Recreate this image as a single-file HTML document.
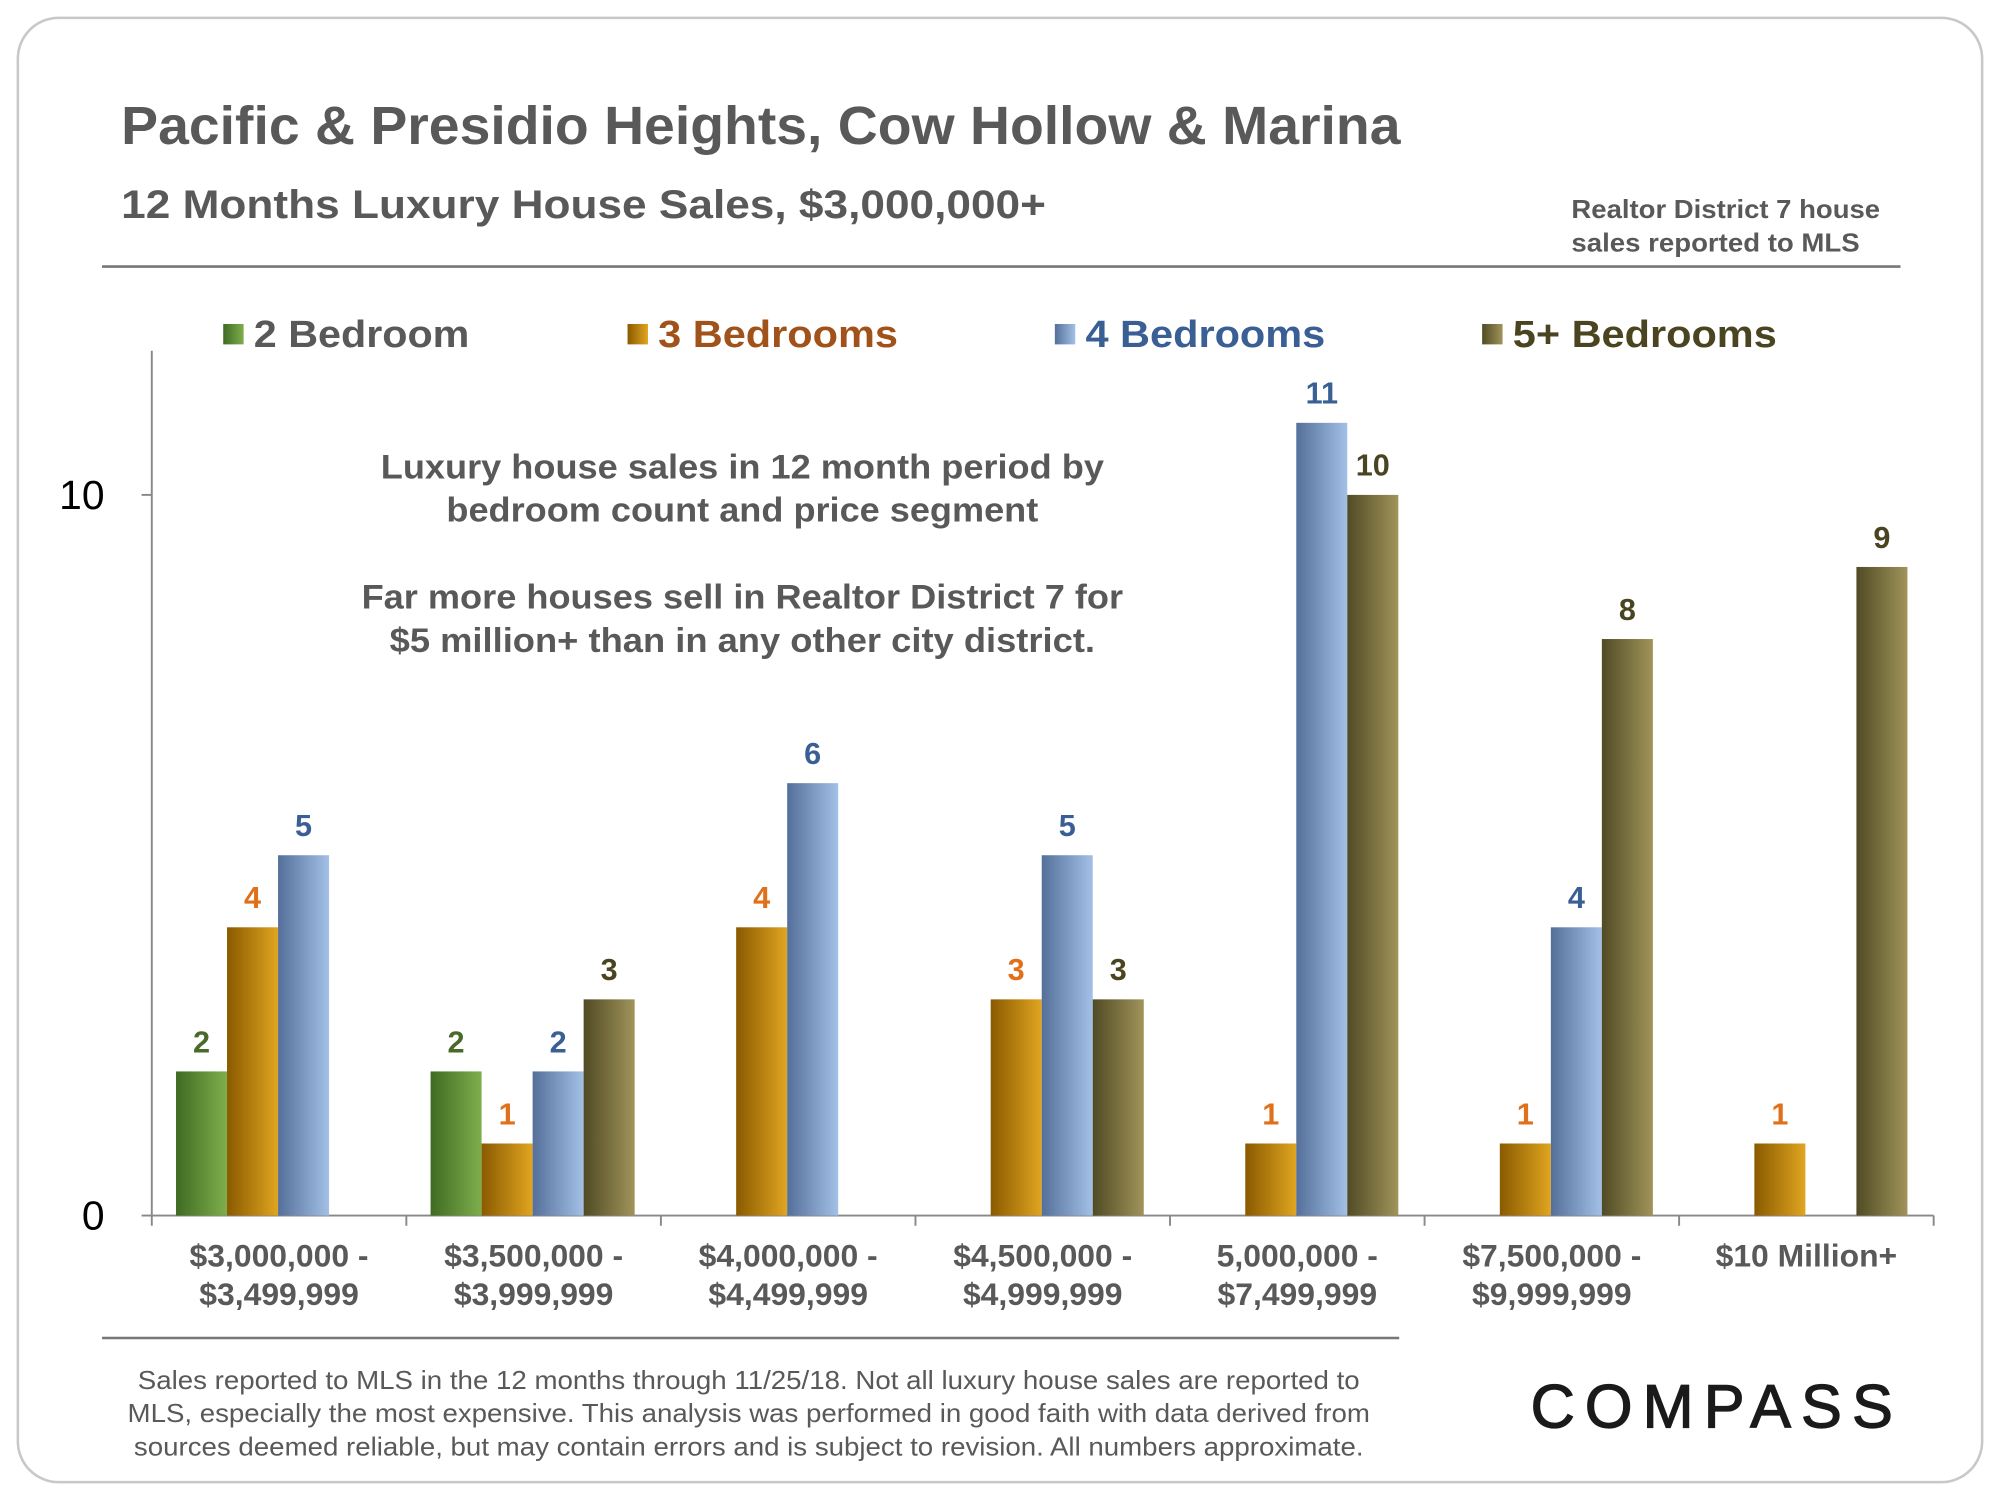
<!DOCTYPE html>
<html><head><meta charset="utf-8">
<style>
html,body{margin:0;padding:0;background:#fff;}
svg{display:block;font-family:"Liberation Sans",Arial,sans-serif;}
</style></head>
<body>
<svg id="chart" width="2000" height="1500" viewBox="0 0 1568 1176" xmlns="http://www.w3.org/2000/svg">
<defs>
<linearGradient id="g2" x1="0" x2="1" y1="0" y2="0"><stop offset="0" stop-color="#3f6b22"/><stop offset="1" stop-color="#7fae4c"/></linearGradient>
<linearGradient id="g3" x1="0" x2="1" y1="0" y2="0"><stop offset="0" stop-color="#8a5a00"/><stop offset="1" stop-color="#e0a520"/></linearGradient>
<linearGradient id="g4" x1="0" x2="1" y1="0" y2="0"><stop offset="0" stop-color="#54709a"/><stop offset="1" stop-color="#a3c0e6"/></linearGradient>
<linearGradient id="g5" x1="0" x2="1" y1="0" y2="0"><stop offset="0" stop-color="#514b25"/><stop offset="1" stop-color="#a0945a"/></linearGradient>
</defs>
<rect x="14" y="14" width="1540" height="1148" rx="32" fill="#fff" stroke="#c8c8c8" stroke-width="2"/>
<text x="95" y="113" font-size="42" font-weight="bold" fill="#595959" textLength="1003" lengthAdjust="spacingAndGlyphs">Pacific &amp; Presidio Heights, Cow Hollow &amp; Marina</text>
<text x="95" y="171" font-size="31" font-weight="bold" fill="#595959" textLength="725" lengthAdjust="spacingAndGlyphs">12 Months Luxury House Sales, $3,000,000+</text>
<text x="1232" y="171" font-size="20" font-weight="bold" fill="#595959" textLength="242" lengthAdjust="spacingAndGlyphs">Realtor District 7 house</text>
<text x="1232" y="197" font-size="20" font-weight="bold" fill="#595959" textLength="226" lengthAdjust="spacingAndGlyphs">sales reported to MLS</text>
<line x1="80" y1="209" x2="1490" y2="209" stroke="#777" stroke-width="2"/>

<g>
<g><rect x="175" y="254" width="16" height="16" fill="url(#g2)"/><text x="199" y="272" font-size="30" font-weight="bold" fill="#595959" textLength="169" lengthAdjust="spacingAndGlyphs">2 Bedroom</text></g>
<g><rect x="492" y="254" width="16" height="16" fill="url(#g3)"/><text x="516" y="272" font-size="30" font-weight="bold" fill="#a0521a" textLength="188" lengthAdjust="spacingAndGlyphs">3 Bedrooms</text></g>
<g><rect x="827" y="254" width="16" height="16" fill="url(#g4)"/><text x="851" y="272" font-size="30" font-weight="bold" fill="#3a5f94" textLength="188" lengthAdjust="spacingAndGlyphs">4 Bedrooms</text></g>
<g><rect x="1162" y="254" width="16" height="16" fill="url(#g5)"/><text x="1186" y="272" font-size="30" font-weight="bold" fill="#4a4520" textLength="207" lengthAdjust="spacingAndGlyphs">5+ Bedrooms</text></g>
</g>

<g font-size="27" font-weight="bold" fill="#595959" text-anchor="middle">
<text x="582" y="375" textLength="567" lengthAdjust="spacingAndGlyphs">Luxury house sales in 12 month period by</text>
<text x="582" y="409" textLength="464" lengthAdjust="spacingAndGlyphs">bedroom count and price segment</text>
<text x="582" y="477" textLength="597" lengthAdjust="spacingAndGlyphs">Far more houses sell in Realtor District 7 for</text>
<text x="582" y="511" textLength="553" lengthAdjust="spacingAndGlyphs">$5 million+ than in any other city district.</text>
</g>

<g id="axes"></g>
<g id="bars"></g>

<line x1="80" y1="1049" x2="1097" y2="1049" stroke="#777" stroke-width="2"/>
<g font-size="20" fill="#595959" text-anchor="middle">
<text x="587" y="1089" textLength="958" lengthAdjust="spacingAndGlyphs">Sales reported to MLS in the 12 months through 11/25/18. Not all luxury house sales are reported to</text>
<text x="587" y="1115" textLength="974" lengthAdjust="spacingAndGlyphs">MLS, especially the most expensive. This analysis was performed in good faith with data derived from</text>
<text x="587" y="1141" textLength="964" lengthAdjust="spacingAndGlyphs">sources deemed reliable, but may contain errors and is subject to revision. All numbers approximate.</text>
</g>
<text x="1200" y="1119" font-size="48" fill="#1a1a1a" stroke="#1a1a1a" stroke-width="1" textLength="284" lengthAdjust="spacing">COMPASS</text>
</svg>
<script>
const categories = [["$3,000,000 -","$3,499,999"],["$3,500,000 -","$3,999,999"],["$4,000,000 -","$4,499,999"],["$4,500,000 -","$4,999,999"],["5,000,000 -","$7,499,999"],["$7,500,000 -","$9,999,999"],["$10 Million+",""]];
const br2 = [2,2,0,0,0,0,0];
const br3 = [4,1,4,3,1,1,1];
const br4 = [5,2,6,5,11,4,0];
const br5 = [0,3,0,3,10,8,9];
const yTicks = [0,10];

const NS="http://www.w3.org/2000/svg";
const x0=119, x1=1516, y0=953, unit=56.5;
const gw=(x1-x0)/categories.length;
function yScale(v){return y0-v*unit;}
function xBand(i,s){return x0+i*gw+19+s*40;}
function mk(tag,attrs,parent){const e=document.createElementNS(NS,tag);for(const k in attrs)e.setAttribute(k,attrs[k]);parent.appendChild(e);return e;}
const axes=document.getElementById('axes'), bars=document.getElementById('bars');
let l=mk('line',{x1:x0,y1:275,x2:x0,y2:y0,stroke:'#888','stroke-width':1.5},axes);


l=mk('line',{x1:x0,y1:y0,x2:x1,y2:y0,stroke:'#888','stroke-width':1.5},axes);


yTicks.forEach(v=>{
  const t=mk('line',{x1:x0-8,y1:yScale(v),x2:x0,y2:yScale(v),stroke:'#888','stroke-width':1.5},axes);
  
  
  const tx=mk('text',{x:82,y:yScale(v)+11,'font-size':32,fill:'#000','text-anchor':'end'},axes);
  tx.textContent=v;
  
  
});
for(let i=0;i<=categories.length;i++){
  const t=mk('line',{x1:x0+i*gw,y1:y0,x2:x0+i*gw,y2:y0+8,stroke:'#888','stroke-width':1.5},axes);
  
  
}
categories.forEach((c,i)=>{
  c.forEach((line,j)=>{
    if(!line)return;
    const tx=mk('text',{x:x0+i*gw+gw/2,y:993+j*30,'font-size':25,'font-weight':'bold',fill:'#595959','text-anchor':'middle'},axes);
    tx.textContent=line;
    
    
  });
});
const series=[[br2,'url(#g2)','#4a6a2a','2br'],[br3,'url(#g3)','#e0701a','3br'],[br4,'url(#g4)','#3a5f94','4br'],[br5,'url(#g5)','#4a4520','5br']];
series.forEach((s,si)=>{
  s[0].forEach((v,i)=>{
    if(!v)return;
    const x=xBand(i,si);
    const r=mk('rect',{x:x,y:yScale(v),width:40,height:v*unit,fill:s[1]},bars);
    
    
    const t=mk('text',{x:x+20,y:yScale(v)-15,'font-size':24,'font-weight':'bold',fill:s[2],'text-anchor':'middle'},bars);
    t.textContent=v;
    
    
  });
});
</script>
</body></html>
